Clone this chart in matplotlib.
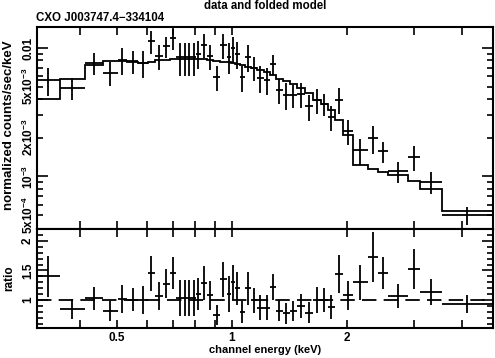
import numpy as np
import matplotlib
matplotlib.use("Agg")
import matplotlib.pyplot as plt
from matplotlib.ticker import FixedLocator, NullFormatter, FixedFormatter

# ---- data ----
edges = [0.3087, 0.3545, 0.4123, 0.4596, 0.5029, 0.5311, 0.5675, 0.6026, 0.6287, 0.6598,
         0.6882, 0.7136, 0.7443, 0.7625, 0.7811, 0.8050, 0.8295, 0.8601, 0.8919, 0.9303,
         0.9703, 0.9940, 1.0183, 1.0494, 1.0814, 1.1213, 1.1626, 1.2129, 1.2574, 1.3036,
         1.3598, 1.4185, 1.4796, 1.5530, 1.6300, 1.7100, 1.7836, 1.8604, 1.9525, 2.0737,
         2.2699, 2.4115, 2.5610, 2.8887, 3.1057, 3.5459, 4.8232]

model = [4.01e-3, 5.74e-3, 7.37e-3, 7.92e-3, 7.92e-3, 7.78e-3, 7.64e-3, 7.78e-3, 8.06e-3, 8.06e-3,
         8.21e-3, 8.21e-3, 8.21e-3, 8.21e-3, 8.21e-3, 8.21e-3, 8.21e-3, 8.06e-3, 7.92e-3, 7.78e-3,
         7.78e-3, 7.64e-3, 7.51e-3, 7.37e-3, 7.11e-3, 6.99e-3, 6.74e-3, 6.50e-3, 6.16e-3, 5.74e-3,
         5.53e-3, 5.24e-3, 4.88e-3, 4.46e-3, 3.94e-3, 3.66e-3, 3.29e-3, 2.75e-3, 2.10e-3, 1.227e-3,
         1.141e-3, 1.082e-3, 1.025e-3, 9.21e-4, 7.98e-4, 5.38e-4]

ratio = [1.40, 0.85, 1.03, 0.81, 1.02, 1.01, 1.00, 1.45, 1.07, 1.28,
         1.45, 1.04, 1.04, 1.04, 1.04, 1.10, 1.29, 1.08, 0.75, 1.35,
         1.10, 1.30, 1.20, 0.80, 1.20, 1.00, 0.87, 0.87, 1.22, 0.82,
         0.78, 0.82, 0.90, 0.79, 1.00, 1.00, 0.88, 1.44, 1.08, 1.30,
         1.73, 1.45, 1.07, 1.53, 1.14, 0.93]

ratio_err = [0.34, 0.17, 0.20, 0.17, 0.24, 0.20, 0.24, 0.29, 0.24, 0.24,
             0.27, 0.30, 0.30, 0.30, 0.30, 0.27, 0.28, 0.24, 0.17, 0.30,
             0.30, 0.30, 0.28, 0.18, 0.28, 0.21, 0.21, 0.21, 0.22, 0.18,
             0.18, 0.17, 0.20, 0.18, 0.22, 0.20, 0.20, 0.32, 0.24, 0.30,
             0.42, 0.27, 0.20, 0.34, 0.22, 0.15]

top_yticks = [5e-4, 1e-3, 2e-3, 5e-3, 1e-2]
top_yticklabels = ["5x10$^{-4}$", "10$^{-3}$", "2x10$^{-3}$", "5x10$^{-3}$", "0.01"]
xticks = [0.5, 1, 2]
xticklabels = ["0.5", "1", "2"]
ratio_ticks = [1, 1.5, 2]
ratio_ticklabels = ["1", "1.5", "2"]

title = "data and folded model"
source = "CXO J003747.4\u2212334104"

# ---- plotting ----
plt.rcParams['font.family'] = ['Liberation Sans', 'DejaVu Sans']
plt.rcParams['font.weight'] = 'bold'
plt.rcParams['mathtext.default'] = 'regular'

edges_a = np.array(edges)
model_a = np.array(model)
ratio_a = np.array(ratio)
rerr_a = np.array(ratio_err)
lo = edges_a[:-1]
hi = edges_a[1:]
cen = np.sqrt(lo * hi)
data = ratio_a * model_a
derr = rerr_a * model_a

W, H = 495, 358
fig = plt.figure(figsize=(W / 100, H / 100), dpi=100)
L, R = 37 / W, 493 / W
ax1 = fig.add_axes([L, 1 - 229 / H, R - L, 202 / H])
ax2 = fig.add_axes([L, 1 - 328 / H, R - L, 99 / H], sharex=ax1)

lw = 1.3
ax1.stairs(model_a, edges_a, baseline=None, color='black', lw=lw)
ax1.errorbar(cen, data, xerr=[cen - lo, hi - cen], yerr=derr, fmt='none',
             ecolor='black', elinewidth=lw, capsize=0)
ax1.set_xscale('log')
ax1.set_yscale('log')
ax1.set_xlim(edges[0], edges[-1])
ax1.set_ylim(3.894e-4, 1.457e-2)

ax2.axhline(1.0, color='black', lw=lw, dashes=(8, 4))
ax2.errorbar(cen, ratio_a, xerr=[cen - lo, hi - cen], yerr=rerr_a, fmt='none',
             ecolor='black', elinewidth=lw, capsize=0)
ax2.set_ylim(0.53, 2.2)

minor_x = [0.4, 0.6, 0.7, 0.8, 0.9, 3, 4]
for ax in (ax1, ax2):
    for s in ax.spines.values():
        s.set_linewidth(1.5)
    ax.xaxis.set_major_locator(FixedLocator(xticks))
    ax.xaxis.set_minor_locator(FixedLocator(minor_x))
    ax.xaxis.set_minor_formatter(NullFormatter())
    ax.tick_params(which='both', direction='in', top=True, right=True, width=1.2,
                   labelsize=8.5, pad=3)
    ax.tick_params(which='major', length=6)
    ax.tick_params(which='minor', length=6)

lab_x = -9 / (R - L) / W  # label centre ~9 px left of the axis

ax1.xaxis.set_major_formatter(NullFormatter())
ax1.yaxis.set_major_locator(FixedLocator([1e-3, 1e-2]))
ax1.yaxis.set_minor_locator(FixedLocator([5e-4, 6e-4, 7e-4, 8e-4, 9e-4, 2e-3, 3e-3, 4e-3,
                                          5e-3, 6e-3, 7e-3, 8e-3, 9e-3]))
ax1.yaxis.set_major_formatter(NullFormatter())
ax1.yaxis.set_minor_formatter(NullFormatter())
ax1.tick_params(axis='y', which='major', length=8)
ax1.tick_params(axis='y', which='minor', length=4)
for v, t in zip(top_yticks, top_yticklabels):
    ax1.text(lab_x, v, t, transform=ax1.get_yaxis_transform(), rotation=90,
             ha='center', va='center', fontsize=8.5, fontweight='bold')

ax2.xaxis.set_major_formatter(FixedFormatter(xticklabels))
ax2.yaxis.set_major_locator(FixedLocator(ratio_ticks))
ax2.yaxis.set_minor_locator(FixedLocator(np.arange(0.6, 2.21, 0.1)))
ax2.yaxis.set_major_formatter(NullFormatter())
ax2.yaxis.set_minor_formatter(NullFormatter())
ax2.tick_params(axis='y', which='major', length=8)
ax2.tick_params(axis='y', which='minor', length=4)
for v, t in zip(ratio_ticks, ratio_ticklabels):
    ax2.text(lab_x, v, t, transform=ax2.get_yaxis_transform(), rotation=90,
             ha='center', va='center', fontsize=8.5, fontweight='bold')

fig.text(0.5 * (L + R), 1 - 6 / H, title, ha='center', va='center', fontsize=8.3)
fig.text(L - 0.002, 1 - 18 / H, source, ha='left', va='center', fontsize=8.3)
fig.text(0.5 * (L + R), 1 - 350 / H, "channel energy (keV)", ha='center', va='center', fontsize=8)
fig.text(9 / W, 1 - 125 / H, "normalized counts/sec/keV", rotation=90, ha='center', va='center', fontsize=9.5)
fig.text(9 / W, 1 - 278 / H, "ratio", rotation=90, ha='center', va='center', fontsize=8.5)

fig.savefig("out.png", dpi=100)
